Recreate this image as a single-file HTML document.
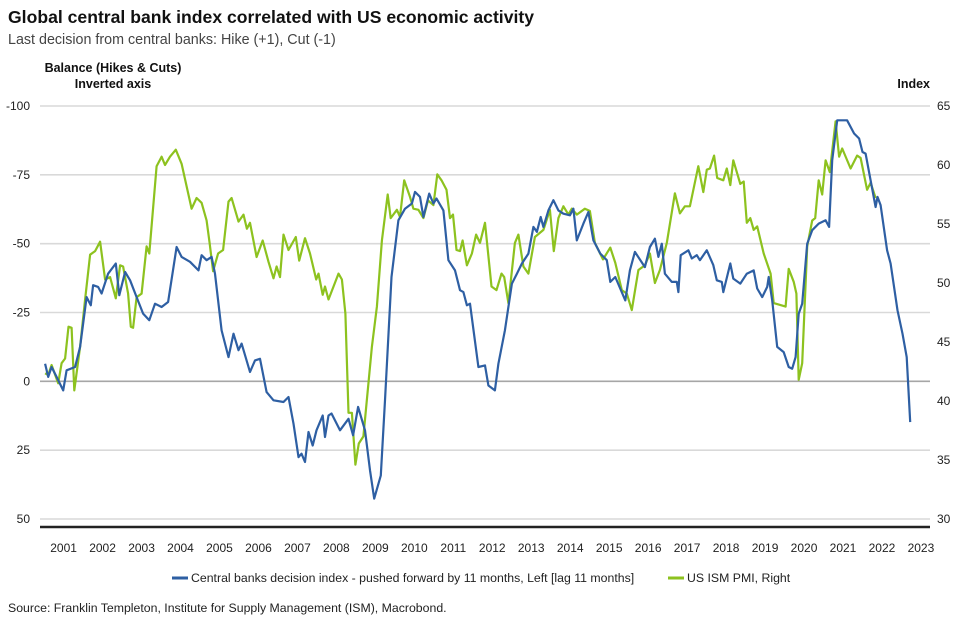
<!DOCTYPE html>
<html><head><meta charset="utf-8"><style>
body{margin:0;background:#fff;width:963px;height:624px;overflow:hidden;font-family:"Liberation Sans",Arial,sans-serif}
svg text{font-family:"Liberation Sans Narrow","Liberation Sans",Arial,sans-serif}
</style></head><body>
<svg id="chart" width="963" height="624" xmlns="http://www.w3.org/2000/svg">
<text x="8" y="23" font-size="17.6" font-weight="bold" fill="#111" style="font-family:'Liberation Sans',Arial,sans-serif">Global central bank index correlated with US economic activity</text>
<text x="8" y="44" font-size="14.3" fill="#444" style="font-family:'Liberation Sans',Arial,sans-serif">Last decision from central banks: Hike (+1), Cut (-1)</text>
<text x="113" y="72" font-size="12.5" font-weight="bold" text-anchor="middle" fill="#111">Balance (Hikes &amp; Cuts)</text>
<text x="113" y="88" font-size="12.5" font-weight="bold" text-anchor="middle" fill="#111">Inverted axis</text>
<text x="930" y="88" font-size="12.5" font-weight="bold" text-anchor="end" fill="#111">Index</text>
<g id="grid"></g><g id="series"></g><g id="axes"></g>
<g>
<line x1="172" y1="578" x2="188" y2="578" stroke="#2e5fa3" stroke-width="3"/>
<text x="191" y="582" font-size="12.3" fill="#222">Central banks decision index -  pushed forward by 11 months, Left [lag 11 months]</text>
<line x1="668" y1="578" x2="684" y2="578" stroke="#8dc21f" stroke-width="3"/>
<text x="687" y="582" font-size="12.3" fill="#222">US ISM PMI, Right</text>
</g>
<text x="8" y="612" font-size="12.3" fill="#222">Source: Franklin Templeton, Institute for Supply Management (ISM), Macrobond.</text>
</svg>
<script>
const leftTicks=[-100,-75,-50,-25,0,25,50];
const rightTicks=[65,60,55,50,45,40,35,30];
const years=[2001,2002,2003,2004,2005,2006,2007,2008,2009,2010,2011,2012,2013,2014,2015,2016,2017,2018,2019,2020,2021,2022,2023];
const blueT=[2001.06,2001.14,2001.23,2001.36,2001.53,2001.62,2001.84,2001.97,2002.14,2002.25,2002.31,2002.44,2002.53,2002.70,2002.9,2002.99,2003.14,2003.27,2003.44,2003.61,2003.77,2003.92,2004.09,2004.26,2004.48,2004.61,2004.83,2005.05,2005.13,2005.26,2005.39,2005.48,2005.65,2005.83,2005.96,2006.09,2006.17,2006.39,2006.52,2006.65,2006.82,2007.0,2007.26,2007.39,2007.52,2007.65,2007.73,2007.82,2007.91,2008.02,2008.12,2008.28,2008.34,2008.43,2008.51,2008.73,2008.95,2009.07,2009.2,2009.38,2009.51,2009.62,2009.79,2009.9,2010.07,2010.25,2010.42,2010.6,2010.68,2010.81,2010.9,2011.05,2011.16,2011.24,2011.42,2011.55,2011.72,2011.85,2011.94,2012.03,2012.11,2012.33,2012.5,2012.59,2012.76,2012.85,2013.02,2013.2,2013.33,2013.46,2013.63,2013.76,2013.85,2013.95,2014.02,2014.15,2014.28,2014.41,2014.54,2014.71,2014.8,2014.89,2015.06,2015.19,2015.32,2015.5,2015.67,2015.76,2015.89,2016.15,2016.27,2016.4,2016.66,2016.79,2016.92,2017.01,2017.1,2017.18,2017.36,2017.49,2017.53,2017.59,2017.79,2017.88,2018.01,2018.09,2018.27,2018.44,2018.53,2018.66,2018.7,2018.88,2018.96,2019.14,2019.31,2019.49,2019.58,2019.71,2019.84,2019.88,2019.97,2020.1,2020.27,2020.4,2020.49,2020.58,2020.66,2020.75,2020.88,2021.01,2021.18,2021.36,2021.45,2021.53,2021.66,2021.92,2022.1,2022.23,2022.32,2022.4,2022.53,2022.66,2022.71,2022.79,2022.96,2023.05,2023.23,2023.36,2023.47,2023.56];
const blueV=[-6.4,-1.6,-5.2,-1.6,3.3,-4,-5.2,-12.5,-30.6,-27.6,-34.9,-34.3,-31.9,-39.1,-42.8,-31.3,-39.7,-36.7,-30.6,-24.6,-22.2,-28.2,-27,-28.8,-48.8,-45.2,-43.4,-40.3,-45.8,-44,-45.2,-39.1,-18.5,-8.8,-17.3,-11.3,-13.7,-3.4,-7.6,-8.2,3.9,6.9,7.5,5.7,15.4,27.5,26.3,29.3,18.4,23.3,17.8,12.4,20.2,12.4,11.7,17.8,13.6,19.6,9.3,17.8,32.3,42.6,34.2,6.9,-37.9,-58.5,-62.7,-64.6,-68.8,-67,-59.7,-68.2,-64.6,-66.4,-62.1,-44,-40.3,-33.1,-32.4,-27.6,-28.2,-5.2,-5.8,1.5,3.3,-6.4,-18.5,-35.5,-39.1,-42.8,-46.4,-56.1,-54.3,-59.7,-56.1,-62.1,-65.8,-62.1,-60.9,-60.3,-62.7,-51.2,-57.3,-61.5,-51.2,-46.4,-44,-36.1,-37.9,-29.4,-40.3,-47,-41.5,-48.8,-51.8,-45.2,-50,-39.1,-36.1,-36.1,-32.4,-45.8,-47.6,-44.6,-45.8,-44,-47.6,-42.2,-36.7,-36.1,-32.4,-42.8,-37.3,-35.5,-39.1,-40.3,-33.7,-30.6,-34.3,-37.9,-29.4,-12.5,-10.6,-5.2,-4.6,-8.8,-24.6,-28.2,-50,-54.9,-57.3,-58.5,-56.1,-80.3,-94.8,-94.8,-90,-88.2,-83.3,-82.7,-73,-63.3,-67,-64,-47.6,-42.8,-25.8,-17.3,-8.8,14.8];
const greenT=[2001.06,2001.14,2001.23,2001.4,2001.49,2001.58,2001.67,2001.75,2001.82,2001.97,2002.1,2002.23,2002.36,2002.49,2002.62,2002.75,2002.9,2003.01,2003.09,2003.22,2003.29,2003.35,2003.44,2003.57,2003.7,2003.77,2003.96,2004.09,2004.18,2004.31,2004.46,2004.61,2004.87,2005,2005.13,2005.26,2005.34,2005.43,2005.56,2005.69,2005.83,2005.91,2006.09,2006.22,2006.31,2006.39,2006.56,2006.72,2006.87,2007,2007.08,2007.17,2007.26,2007.39,2007.58,2007.67,2007.82,2007.95,2008.11,2008.17,2008.28,2008.34,2008.43,2008.69,2008.78,2008.87,2008.95,2009.04,2009.13,2009.22,2009.34,2009.56,2009.69,2009.82,2009.97,2010.05,2010.21,2010.29,2010.4,2010.55,2010.64,2010.77,2010.9,2011.02,2011.16,2011.26,2011.37,2011.5,2011.59,2011.67,2011.76,2011.85,2011.92,2012.03,2012.16,2012.27,2012.37,2012.5,2012.67,2012.8,2012.93,2013,2013.11,2013.28,2013.37,2013.5,2013.63,2013.8,2014.02,2014.19,2014.29,2014.41,2014.54,2014.67,2014.76,2014.89,2015.1,2015.23,2015.36,2015.57,2015.76,2015.89,2016.06,2016.19,2016.32,2016.49,2016.66,2016.79,2016.92,2017.05,2017.23,2017.44,2017.57,2017.7,2017.83,2018.05,2018.18,2018.27,2018.35,2018.46,2018.54,2018.7,2018.79,2018.88,2018.96,2019.14,2019.23,2019.31,2019.4,2019.49,2019.58,2019.75,2019.93,2020.01,2020.32,2020.4,2020.53,2020.6,2020.66,2020.75,2020.88,2021.01,2021.09,2021.18,2021.27,2021.36,2021.47,2021.62,2021.71,2021.79,2022.01,2022.18,2022.27,2022.44,2022.53,2022.66];
const greenV=[42.35,42.2,43.05,41.5,43.2,43.6,46.3,46.2,40.9,44.6,48.6,52.4,52.7,53.5,50.3,50.5,48.7,51.5,51.4,49.1,46.3,46.2,48.8,49.1,53.1,52.5,59.9,60.7,60,60.7,61.3,60.1,56.3,57.2,56.8,55.3,53.4,51,52.5,52.8,56.9,57.2,55.2,55.8,54.6,55.1,52.2,53.6,51.8,50.4,51.4,50.5,54.1,52.8,53.9,51.9,53.8,52.5,50.3,50.8,49,49.7,48.6,50.8,50.3,47.4,39,39,34.6,36.4,37,44.6,48,53.6,57.5,55.5,56.2,55.6,58.7,57.3,56.3,56.2,55.5,57,56.6,59.2,58.7,57.9,55.5,55.8,52.8,52.7,53.6,51.5,52.5,54.1,53.4,55.1,49.7,49.4,50.8,50.5,48.3,53.4,54.1,51.4,50.8,53.9,54.5,56.2,52.7,55.5,56.5,55.8,56.3,55.8,56.3,56.1,53.4,52,53,51.7,49.4,49.1,47.7,51.1,51.5,52.5,50,51.1,53.4,57.6,55.9,56.5,56.5,59.9,57.7,59.6,59.7,60.8,58.9,58.7,59.7,58.3,60.4,58.4,58.6,55.1,55.5,54.5,54.8,52.5,50.8,48.3,48,51.2,50.1,49.1,41.8,43.2,53.1,55.3,55.5,58.7,57.5,60.4,59.4,63.7,60.7,61.4,59.7,60.8,60.6,57.9,58.5,57.2];

const NS='http://www.w3.org/2000/svg';
const X0=40,X1=930,Y0=106,Y1=519;
function xs(t){return 62+(t-2001.5)*38.45;}
function yl(v){return Y0+(v-(-100))/150*(Y1-Y0);}
function yr(v){return Y0+(65-v)/35*(Y1-Y0);}
function mk(tag,attrs,parent){const e=document.createElementNS(NS,tag);for(const k in attrs)e.setAttribute(k,attrs[k]);parent.appendChild(e);return e;}
const grid=document.getElementById('grid'),axes=document.getElementById('axes'),series=document.getElementById('series');
leftTicks.forEach((v,i)=>{
  const y=yl(v);
  const g=mk('line',{x1:X0,x2:X1,y1:y,y2:y,stroke:v===0?'#a6a6a6':'#d9d9d9','stroke-width':1.6},grid);
  
  
  const t=mk('text',{x:30,y:y+4,'font-size':12,'text-anchor':'end',fill:'#222'},axes);
  t.textContent=String(v);
  
  
});
rightTicks.forEach(v=>{
  const t=mk('text',{x:937,y:yr(v)+4,'font-size':12,fill:'#222'},axes);
  t.textContent=String(v);
  
  
});
const base=mk('line',{x1:X0,x2:X1,y1:527,y2:527,stroke:'#222','stroke-width':2.5},axes);


years.forEach((yv,i)=>{
  const t=mk('text',{x:63.6+i*38.97,y:552,'font-size':12,'text-anchor':'middle',fill:'#222'},axes);
  t.textContent=String(yv);
  
  
});
function path(T,V,ys){return T.map((t,i)=>(i?'L':'M')+xs(t).toFixed(1)+','+ys(V[i]).toFixed(1)).join('');}
const gp=mk('path',{d:path(greenT,greenV,yr),fill:'none',stroke:'#8dc21f','stroke-width':2.2,'stroke-linejoin':'round'},series);


const bp=mk('path',{d:path(blueT,blueV,yl),fill:'none',stroke:'#2e5fa3','stroke-width':2.2,'stroke-linejoin':'round'},series);


</script>
</body></html>
